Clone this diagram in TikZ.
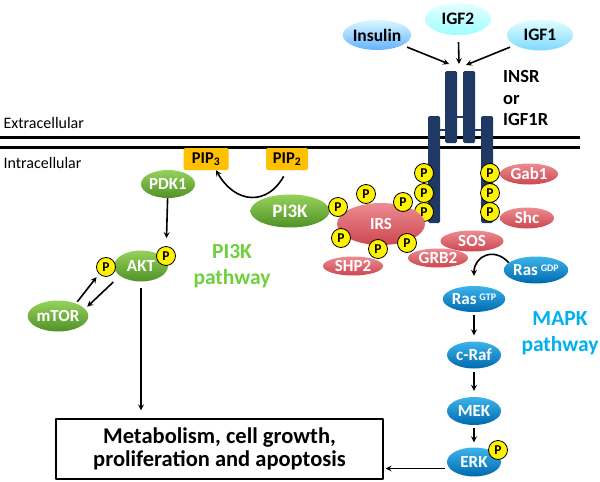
\documentclass[tikz,border=0pt]{standalone}
\usepackage{fontspec}
\setmainfont{Carlito}
\usetikzlibrary{shapes.geometric}
\definecolor{navy}{RGB}{31,56,100}
\definecolor{grtop}{RGB}{150,210,90}
\definecolor{grbot}{RGB}{80,145,40}
\definecolor{rdtop}{RGB}{236,140,145}
\definecolor{rdbot}{RGB}{205,70,80}
\definecolor{bltop}{RGB}{60,180,235}
\definecolor{blbot}{RGB}{0,105,175}
\definecolor{pipor}{RGB}{255,192,0}
\definecolor{pigreen}{RGB}{110,208,60}
\definecolor{mapkblue}{RGB}{0,176,240}
\newcommand{\fs}[1]{\fontsize{#1}{#1}\selectfont}
\begin{document}
\begin{tikzpicture}[x=1pt,y=-1pt,>=stealth,line join=round,font=\bfseries\fs{17},
    prot/.style={ellipse,inner sep=0pt,text=white},
    gr/.style={prot,top color=grtop,bottom color=grbot},
    rd/.style={prot,top color=rdtop,bottom color=rdbot},
    bl/.style={prot,top color=bltop,bottom color=blbot},
    lig/.style={ellipse,inner sep=0pt,text=black,font=\bfseries\fs{17.5}},
    pho/.style={circle,draw,line width=0.8pt,fill=yellow,inner sep=0pt,minimum size=19,font=\bfseries\fs{13.5}},
    pip/.style={rectangle,rounded corners=2pt,fill=pipor,minimum width=45,minimum height=22,inner sep=0pt,font=\bfseries\fs{16.5}},
    arr/.style={->,line width=1.6pt}]
\useasboundingbox (0,0) rectangle (600,482);
% membrane
\draw[line width=3pt] (0,137) -- (580,137) (0,147) -- (580,147);
\node[anchor=west,font=\fs{16}] (extra) at (0,123) {Extracellular};
\node[anchor=west,font=\fs{16}] (intra) at (0,163) {Intracellular};
% receptor
\draw[navy,line width=2pt] (440,130) -- (446,130) (457,117) -- (463,117) (475,130) -- (481,130);
\fill[navy,rounded corners=1.5pt] (445,71) rectangle (457,143) (463,71) rectangle (475,143)
    (428,116) rectangle (440,223) (481,116) rectangle (493,223);
\node[anchor=west,align=left,font=\bfseries\fs{18.5},inner sep=0pt] (insr) at (503,98) {INSR\\[3pt]or\\[3pt]IGF1R};
% ligands
\node[lig,top color=blue!18!cyan!15,bottom color=blue!50!cyan!60,minimum width=67,minimum height=30] (ins) at (377,35) {Insulin};
\node[lig,top color=cyan!10,bottom color=cyan!38,minimum width=66,minimum height=32] (igf2) at (458,19) {IGF2};
\node[lig,top color=cyan!12,bottom color=blue!30!cyan!50,minimum width=66,minimum height=31] (igf1) at (540,35) {IGF1};
\coordinate (rl) at (449,64);
\coordinate (rm) at (459,64);
\coordinate (rr) at (466,65);
\draw[arr,shorten <=5pt] (ins) -- (rl);
\draw[arr,shorten <=7pt] (igf2) -- (rm);
\draw[arr,shorten <=5pt] (igf1) -- (rr);
% receptor side proteins
\node[rd,minimum width=58,minimum height=21] (gab1) at (529,174) {Gab1};
\node[rd,minimum width=54,minimum height=21] (shc) at (527,218) {Shc};
\foreach \py [count=\i] in {173,193,212}{
  \node[pho] (pl\i) at (424,\py) {P};
  \node[pho] (pr\i) at (490,\py) {P};
}
% PI3K branch
\node[pip] (pip3) at (206,159) {PIP\textsubscript{3}};
\node[pip,minimum width=42] (pip2) at (287,159) {PIP\textsubscript{2}};
\draw[arr,shorten <=7pt] (pip2.south) .. controls (268,205) and (236,205) .. ([xshift=10pt]pip3.south);
\node[rd,minimum width=63,minimum height=21] (sos) at (472,241) {SOS};
\node[rd,minimum width=60,minimum height=19] (grb2) at (438,258) {GRB2};
\node[rd,minimum width=60,minimum height=19] (shp2) at (353,266) {SHP2};
\node[gr,minimum width=79,minimum height=33,font=\bfseries\fs{19}] (pi3k) at (290,211) {PI3K};
\node[rd,minimum width=88,minimum height=42] (irs) at (381,224) {IRS};
\foreach \px/\py [count=\i] in {338/207,366/194,403/202,341/238,378/249,407/243}
  \node[pho] (pi\i) at (\px,\py) {P};
\node[gr,minimum width=54,minimum height=28] (pdk1) at (168,184) {PDK1};
\node[gr,minimum width=54,minimum height=31] (akt) at (141,266) {AKT};
\node[pho] (paktl) at (106,267) {P};
\node[pho] (paktr) at (166,256) {P};
\node[gr,minimum width=54,minimum height=31] (mtor) at (58,316) {mTOR};
\draw[arr,shorten >=8pt] (pdk1) -- (paktr);
\draw[arr,shorten <=2pt,shorten >=4pt] (mtor.35) -- (paktl.225);
\draw[arr,shorten <=9pt,shorten >=3pt] (akt.205) -- (mtor.15);
\node[pigreen,align=center,font=\bfseries\fs{21.5},inner sep=0pt] (pitext) at (232,266) {PI3K\\[4pt]pathway};
% MAPK branch
\node[bl,minimum width=54,minimum height=27] (rgdp) at (536,270) {Ras\,\raisebox{4pt}{\fs{10}GDP}};
\node[bl,minimum width=54,minimum height=26] (rgtp) at (474,299) {Ras\,\raisebox{4pt}{\fs{10}GTP}};
\node[bl,minimum width=54,minimum height=27] (craf) at (474,355) {c-Raf};
\node[bl,minimum width=54,minimum height=28] (mek) at (474,411) {MEK};
\node[bl,minimum width=54,minimum height=29] (erk) at (474,462) {ERK};
\node[pho] (perk) at (498,450) {P};
\draw[arr,shorten >=10pt] (rgdp.165) .. controls +(-14,-16) and +(0,-30) .. (rgtp.north);
\draw[arr,shorten <=3pt,shorten >=6pt] (rgtp) -- (craf);
\draw[arr,shorten <=3pt,shorten >=6pt] (craf) -- (mek);
\draw[arr,shorten <=3pt,shorten >=5pt] (mek) -- (erk);
\node[mapkblue,align=center,font=\bfseries\fs{21.5},inner sep=0pt] (maptext) at (560,333) {MAPK\\[4pt]pathway};
% outcome
\node[draw,line width=1.2pt,minimum width=327,minimum height=60,align=center,font=\bfseries\fs{22.5}] (out) at (219.5,449)
  {Metabolism, cell growth,\\[1pt]proliferation and apoptosis};
\draw[arr,shorten <=6pt,shorten >=8pt] (akt) -- (akt |- out.north);
\draw[arr,shorten <=5pt,shorten >=2pt] (erk.195) -- (erk.195 -| out.east);
\end{tikzpicture}
\end{document}
